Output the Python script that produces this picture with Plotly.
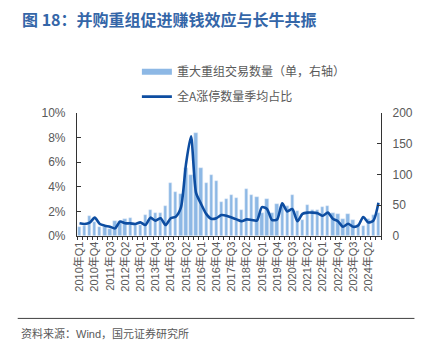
import plotly.graph_objects as go

years = list(range(2010, 2025))
quarters = [f"{y}年Q{q}" for y in years for q in range(1, 5)]

deals = [14, 16, 32, 22, 15, 14, 11, 24, 24, 28,
         30, 18, 18, 34, 43, 38, 38, 49, 86, 72,
         69, 110, 99, 168, 110, 87, 100, 89, 55, 60,
         66, 62, 42, 76, 67, 63, 38, 60, 38, 52,
         50, 48, 67, 41, 26, 51, 42, 43, 47, 49,
         37, 36, 28, 35, 26, 20, 17, 27, 34, 38]

limit_up_pct = [1.03, 0.98, 1.08, 1.49, 0.98, 0.84, 0.76, 0.62, 1.17, 1.03,
                1.03, 0.98, 1.11, 0.89, 1.49, 1.25, 1.44, 0.89, 1.44, 1.57,
                2.3, 5.8, 8.1, 3.5, 2.6, 1.8, 1.4, 1.45, 1.7, 1.65,
                1.5, 1.35, 1.2, 1.35, 1.3, 1.25, 2.35, 2.2, 1.3, 1.35,
                2.65, 2.0, 2.2, 1.2, 1.8, 1.9, 1.9, 1.85, 1.65, 1.9,
                1.4, 1.2, 0.75, 1.0, 0.75, 0.85, 1.55, 1.1, 1.25, 2.7]

bar_name = "重大重组交易数量（单，右轴）"
line_name = "全A涨停数量季均占比"
title = "图 18：并购重组促进赚钱效应与长牛共振"
source = "资料来源：Wind，国元证券研究所"

BAR_C = "#8DB8E5"
LINE_C = "#0D4DA1"
GREY = "#595959"
FONT = "Liberation Sans, Noto Sans CJK SC, sans-serif"

xs = list(range(len(quarters)))
tick_idx = xs[::3]

fig = go.Figure()
fig.add_trace(go.Bar(x=xs, y=deals, marker_color=BAR_C, width=0.65,
                     yaxis="y", showlegend=False, name=bar_name))
# legend proxy for bars (wide swatch)
fig.add_trace(go.Scatter(x=[None], y=[None], mode="lines", name=bar_name,
                         line=dict(color=BAR_C, width=6), yaxis="y", legendgroup="a"))
fig.add_trace(go.Scatter(x=xs, y=[v / 100 for v in limit_up_pct], mode="lines",
                         name=line_name, line=dict(color=LINE_C, width=2.6, shape="spline", smoothing=0.7),
                         yaxis="y2", legendgroup="b"))

fig.update_layout(
    width=433, height=354,
    margin=dict(l=77, r=52, t=113, b=118),
    paper_bgcolor="white", plot_bgcolor="white",
    font=dict(family=FONT, size=11, color=GREY),
    bargap=0,
    title=dict(text=f"<b>{title}</b>", xref="container", yref="container",
               x=22 / 433, xanchor="left", y=1 - 20 / 354, yanchor="middle",
               font=dict(size=16, color="#3466A8", family="Noto Sans CJK SC")),
    xaxis=dict(range=[-0.5, len(xs) - 0.5], tickmode="array", tickvals=tick_idx,
               ticktext=[quarters[i] for i in tick_idx], tickangle=-90,
               ticks="", showline=True, linecolor="#333", linewidth=1.2,
               showgrid=False, zeroline=False, tickfont=dict(size=11, color=GREY),
               minor=dict(tickmode="linear", tick0=-0.5, dtick=1, ticks="outside",
                          ticklen=3, tickcolor="#333", showgrid=False)),
    yaxis=dict(range=[0, 200], dtick=50, side="right", showline=True, linecolor="#333",
               linewidth=1.2, ticks="inside", ticklen=4, tickcolor="#333",
               showgrid=False, zeroline=False, ticklabelstandoff=8,
               tickfont=dict(size=12, color=GREY)),
    yaxis2=dict(range=[0, 0.10], dtick=0.02, tickformat=".0%", overlaying="y", side="left",
                showline=True, linecolor="#333", linewidth=1.2, ticks="inside", ticklen=4,
                tickcolor="#333", showgrid=False, zeroline=False, ticklabelstandoff=8,
                tickfont=dict(size=12, color=GREY)),
    legend=dict(x=0.197, xanchor="left", y=1.454, yanchor="top", bgcolor="rgba(0,0,0,0)",
                font=dict(size=12, color=GREY, family="Noto Sans CJK SC"),
                tracegroupgap=6, traceorder="grouped"),
    annotations=[
        dict(text=source, xref="paper", yref="paper", x=-0.19, y=-0.79,
             xanchor="left", yanchor="middle", showarrow=False,
             font=dict(size=11, color=GREY, family="Liberation Sans, Noto Sans CJK SC")),
    ],
    shapes=[dict(type="line", xref="paper", yref="paper", x0=-0.195, x1=1.11,
                 y0=-0.67, y1=-0.67, line=dict(color="#404040", width=1))],
)

fig.write_html("out.html")
